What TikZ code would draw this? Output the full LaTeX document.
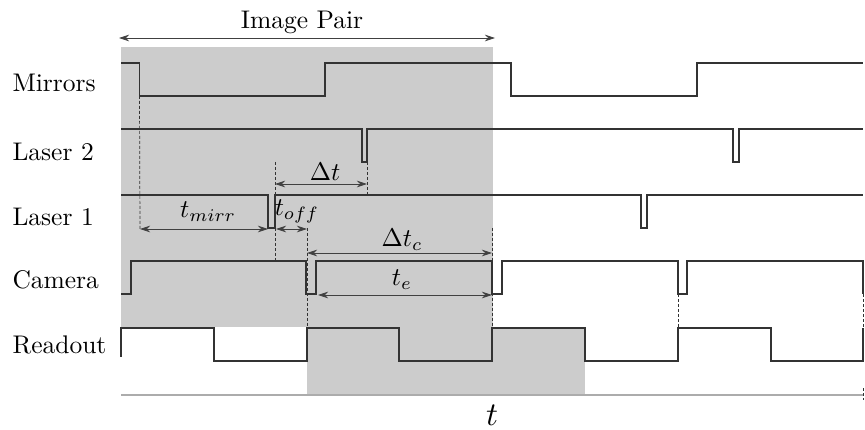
\documentclass[tikz,border=0pt]{standalone}
\usetikzlibrary{arrows.meta}
\begin{document}
\begin{tikzpicture}[x=1pt,y=-1pt,
  sig/.style={line width=1.1pt, draw=black!80},
  dim/.style={{Stealth[length=10pt,width=6.5pt]}-{Stealth[length=10pt,width=6.5pt]}, line width=0.7pt, draw=black!75},
  guide/.style={dash pattern=on 3pt off 2pt, line width=0.7pt, draw=black!80},
  lbl/.style={scale=2.55, inner sep=0pt},
  row/.style={lbl, anchor=west}]
\useasboundingbox (0,0) rectangle (865,430);
% shaded regions
\fill[gray!40] (121,47) rectangle (493,327);
\fill[gray!40] (307,327) rectangle (585,394);
% time axis
\draw[gray!65, line width=1.6pt] (121,395) -- (863,395);
% row labels
\node[row] (lmir) at (12,83) {Mirrors};
\node[row] (ll2) at (12,152) {Laser 2};
\node[row] (ll1) at (12,217) {Laser 1};
\node[row] (lcam) at (12,280) {Camera};
\node[row] (lro) at (12,345) {Readout};
% signals
\draw[sig] (121,63) -| (139.5,96) -| (325,63) -| (511,96) -| (697,63) -- (863,63);
\draw[sig] (121,129) -| (362,162) -| (367,129) -| (733,162) -| (739,129) -- (863,129);
\draw[sig] (121,195) -| (268,228) -| (275,195) -| (641,228) -| (647,195) -- (863,195);
\draw[sig] (121,294) -| (131,261) -| (306,294) -| (316,261) -| (492,294) -| (502,261) -| (678,294) -| (687,261) -| (863,294);
\draw[sig] (121,357) |- (214,328) |- (307,361) |- (399,328) |- (492,361) |- (585,328) |- (678,361) |- (771,328) |- (863,361) -- (863,328);
% coordinates
\coordinate (ipL) at (119,38);  \coordinate (ipR) at (495,38);
\coordinate (dtL) at (275,184); \coordinate (dtR) at (367,184);
\coordinate (tmL) at (140,229); \coordinate (tmR) at (268,229);
\coordinate (toL) at (276,229); \coordinate (toR) at (307,229);
\coordinate (dcL) at (307,253); \coordinate (dcR) at (492,253);
\coordinate (teL) at (318,295); \coordinate (teR) at (492,295);
% guides
\draw[guide] (139.5,96) -- (tmL);
\draw[guide] (275,162) -- (275,195);
\draw[guide] (275,228) -- (275,260);
\draw[guide] (367,162) -- (367,195);
\draw[guide] (307,228) -- (307,327);
\draw[guide] (492,228) -- (492,327);
\draw[guide] (678,294) -- (678,327);
\draw[guide] (863,294) -- (863,327);
\draw[guide] (863,388) -- (863,400);
% dimension arrows
\draw[dim] (ipL) -- (ipR);
\draw[dim] (dtL) -- (dtR);
\draw[dim] (tmL) -- (tmR);
\draw[dim] (toL) -- (toR);
\draw[dim] (dcL) -- (dcR);
\draw[dim] (teL) -- (teR);
% labels
\node[lbl] (ip) at (302,22) {Image Pair};
\node[lbl] (dt) at (325,172) {$\Delta t$};
\node[lbl] (tm) at (208,212) {$t_{mirr}$};
\node[lbl] (to) at (297,211) {$t_{off}$};
\node[lbl] (dc) at (402,240) {$\Delta t_c$};
\node[lbl] (te) at (402,280) {$t_e$};
\node[lbl, scale=1.3] (tt) at (492,415) {$t$};
\end{tikzpicture}
\end{document}
